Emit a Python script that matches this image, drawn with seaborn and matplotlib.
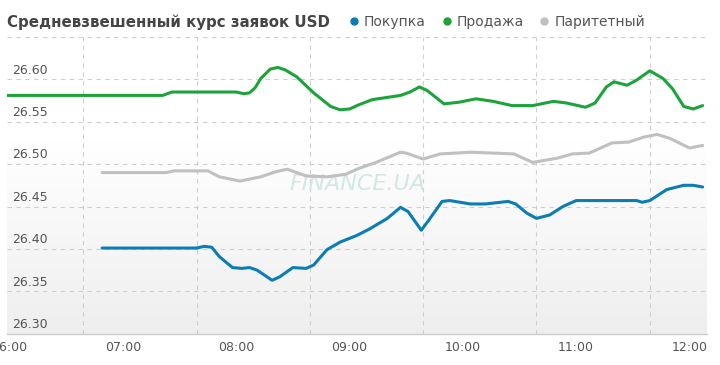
import numpy as np
import pandas as pd
import matplotlib
matplotlib.use("Agg")
import matplotlib.pyplot as plt
import matplotlib.transforms as mtransforms
from matplotlib.lines import Line2D
import seaborn as sns

sns.set_theme(style="white")
plt.rcParams["font.family"] = ["DejaVu Sans"]

# ==================================================
# DATA
# ==================================================

buy_time = ["06:49", "07:39", "07:43", "07:47", "07:51", "07:58", "08:03", "08:07",
            "08:11", "08:19", "08:23", "08:30", "08:37", "08:41", "08:48", "08:55",
            "09:04", "09:11", "09:20", "09:27", "09:31", "09:38", "09:42", "09:49",
            "09:53", "10:04", "10:12", "10:24", "10:28", "10:34", "10:39", "10:46",
            "10:53", "11:00", "11:32", "11:35", "11:39", "11:48", "11:57", "12:02",
            "12:07"]
buy_rate = [26.401, 26.401, 26.403, 26.402, 26.391, 26.378, 26.377, 26.378,
            26.375, 26.363, 26.367, 26.378, 26.377, 26.381, 26.399, 26.408,
            26.416, 26.424, 26.436, 26.449, 26.444, 26.422, 26.434, 26.456,
            26.457, 26.453, 26.453, 26.456, 26.453, 26.442, 26.436, 26.440,
            26.450, 26.457, 26.457, 26.455, 26.457, 26.470, 26.475, 26.475,
            26.473]

sell_time = ["05:58", "07:21", "07:26", "08:00", "08:04", "08:07", "08:10", "08:13",
             "08:18", "08:22", "08:26", "08:32", "08:41", "08:50", "08:55", "09:00",
             "09:05", "09:12", "09:27", "09:32", "09:37", "09:41", "09:50", "09:58",
             "10:07", "10:16", "10:26", "10:37", "10:48", "10:55", "11:05", "11:10",
             "11:16", "11:20", "11:27", "11:32", "11:39", "11:46", "11:51", "11:57",
             "12:02", "12:07"]
sell_rate = [26.581, 26.581, 26.585, 26.585, 26.583, 26.584, 26.590, 26.601,
             26.612, 26.614, 26.611, 26.603, 26.584, 26.568, 26.564, 26.565,
             26.570, 26.576, 26.581, 26.585, 26.591, 26.587, 26.571, 26.573,
             26.577, 26.574, 26.569, 26.569, 26.574, 26.572, 26.567, 26.572,
             26.591, 26.597, 26.593, 26.599, 26.610, 26.601, 26.589, 26.568,
             26.565, 26.569]

par_time = ["06:49", "07:23", "07:27", "07:45", "07:51", "08:02", "08:13", "08:21",
            "08:27", "08:32", "08:37", "08:48", "08:58", "09:05", "09:14", "09:27",
            "09:30", "09:39", "09:48", "10:04", "10:16", "10:27", "10:37", "10:50",
            "10:58", "11:07", "11:19", "11:28", "11:36", "11:43", "11:50", "12:00",
            "12:07"]
par_rate = [26.490, 26.490, 26.492, 26.492, 26.485, 26.480, 26.485, 26.491,
            26.494, 26.490, 26.486, 26.485, 26.488, 26.495, 26.502, 26.514,
            26.513, 26.506, 26.512, 26.514, 26.513, 26.512, 26.502, 26.507,
            26.512, 26.513, 26.525, 26.526, 26.532, 26.535, 26.530, 26.519,
            26.522]

series_names = ["Покупка", "Продажа", "Паритетный"]
series_colors = ["#0b7db4", "#1ca33a", "#c0c0c0"]

hour_labels = ["06:00", "07:00", "08:00", "09:00", "10:00", "11:00", "12:00"]
grid_times = ["06:39", "07:39", "08:39", "09:39", "10:39", "11:39"]
y_ticks = [26.30, 26.35, 26.40, 26.45, 26.50, 26.55, 26.60, 26.65]

title = "Средневзвешенный курс заявок USD"


def to_min(t):
    h, m = t.split(":")
    return int(h) * 60 + int(m)


frames = []
for name, times, rates in zip(series_names,
                              [buy_time, sell_time, par_time],
                              [buy_rate, sell_rate, par_rate]):
    frames.append(pd.DataFrame({
        "minute": [to_min(t) for t in times],
        "rate": rates,
        "series": name,
    }))
df = pd.concat(frames, ignore_index=True)

# ==================================================
# FIGURE
# ==================================================

fig = plt.figure(figsize=(7.2, 3.65), dpi=100)
ax = fig.add_axes([7 / 720, 1 - 333.7 / 365, 700 / 720, (333.7 - 36.9) / 365])

# soft vertical gray gradient background (white at top, light gray at bottom)
rows = np.linspace(0, 1, 200)
shade = np.clip((rows - 0.35) / 0.65, 0, 1)
level = 1 - 0.065 * shade
grad = np.repeat(level[:, None, None], 3, axis=2)
ax.imshow(grad, extent=[0, 1, 0, 1], origin="upper", transform=ax.transAxes,
          aspect="auto", zorder=0, interpolation="bilinear")

# watermark
ax.text(0.5, 0.504, "FINANCE.UA", transform=ax.transAxes, fontsize=16,
        style="italic", color="#d2e8e5", ha="center", va="center", zorder=1)

sns.lineplot(
    data=df, x="minute", y="rate", hue="series",
    hue_order=series_names,
    palette=dict(zip(series_names, series_colors)),
    estimator=None, linewidth=2.2, legend=False, ax=ax, zorder=3,
)
for ln in ax.get_lines():
    ln.set_solid_joinstyle("round")
    ln.set_solid_capstyle("round")

ax.set_xlim(358.6, 729.3)
ax.set_ylim(26.30, 26.65)
ax.set_xlabel("")
ax.set_ylabel("")

# x axis
ax.set_xticks([to_min(t) for t in hour_labels], labels=hour_labels)
ax.set_xticks([to_min(t) for t in grid_times], minor=True)
ax.xaxis.grid(False, which="major")
ax.xaxis.grid(True, which="minor", linestyle=(0, (4, 4)), color="#cfcfcf", linewidth=0.8)
ax.tick_params(axis="x", which="major", length=0, pad=5, labelsize=9, labelcolor="#555555")
ax.tick_params(axis="x", which="minor", length=7, width=0.8, color="#cfcfcf", direction="out")

# y axis, labels inside the plot above each grid line
ax.set_yticks(y_ticks, labels=[f"{v:.2f}" for v in y_ticks[:-1]] + [""])
ax.yaxis.grid(True, linestyle=(0, (4, 4)), color="#cfcfcf", linewidth=0.8)
ax.tick_params(axis="y", length=0, pad=-4, labelsize=9, labelcolor="#555555")
offset = mtransforms.ScaledTranslation(0, 2 / 72, fig.dpi_scale_trans)
for lbl in ax.get_yticklabels():
    lbl.set_ha("left")
    lbl.set_va("bottom")
    lbl.set_transform(lbl.get_transform() + offset)

sns.despine(ax=ax, left=True, top=True, right=True)
ax.spines["bottom"].set_color("#cccccc")
ax.spines["bottom"].set_linewidth(1)

# title and legend
fig.text(7 / 720, 1 - 22 / 365, title, fontsize=10.8, fontweight="bold",
         color="#454545", va="center", ha="left")

handles = [Line2D([], [], marker="o", linestyle="", markersize=5,
                  markerfacecolor=c, markeredgecolor=c) for c in series_colors]
fig.legend(handles, series_names, loc="center left",
           bbox_to_anchor=(350 / 720, 1 - 22 / 365), ncol=3, frameon=False,
           fontsize=10, handlelength=0.6, handletextpad=0.4, columnspacing=1.2,
           borderpad=0, borderaxespad=0, labelcolor="#555555")

fig.savefig("out.png", dpi=100)
plt.close(fig)
